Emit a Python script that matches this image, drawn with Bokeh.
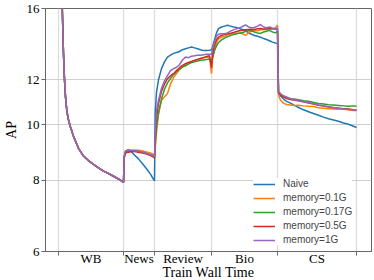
from bokeh.plotting import figure
from bokeh.models import Range1d, FixedTicker, PrintfTickFormatter, Legend, LegendItem
from bokeh.embed import file_html
from bokeh.resources import INLINE

# ---- data -------------------------------------------------------------
tasks = ["WB", "News", "Review", "Bio", "CS"]
task_bounds = [0, 65, 96, 153, 219, 298]
task_centers = [32.5, 80.5, 124.5, 186, 258.5]
y_ticks = [6, 8, 10, 12, 16]

x_wb = [0, 2, 3.7, 5, 6, 7, 8.3, 10, 11.7, 15, 20, 25, 30, 35, 40, 45, 50, 55, 60, 65]
x_news = [65.7, 67, 70, 73, 76, 80, 84, 88, 92, 95, 96]
x_review = [96.7, 98, 100, 103, 106, 109, 112, 115, 118, 121, 124, 127, 130, 133,
            136, 139, 142, 145, 148, 151, 153]
x_bio = [154, 156, 158, 160, 163, 166, 169, 172, 175, 178, 181, 184, 187, 190, 193,
         196, 199, 202, 205, 208, 211, 214, 217, 219]
x_cs = [220, 222, 225, 228, 232, 236, 240, 245, 250, 255, 260, 265, 270, 275, 280,
        285, 290, 295, 298]

wb_ap = [60, 24, 16.2, 13.3, 12.0, 11.2, 10.6, 10.2, 9.95, 9.55, 9.1, 8.82, 8.66,
         8.53, 8.41, 8.3, 8.22, 8.13, 8.04, 7.93]

naive_news = [8.75, 9.0, 9.05, 8.97, 8.86, 8.72, 8.55, 8.38, 8.2, 8.03, 7.98]
naive_review = [10.5, 11.4, 12.0, 12.55, 12.9, 13.15, 13.25, 13.35, 13.4, 13.45, 13.55,
                13.6, 13.65, 13.7, 13.65, 13.6, 13.55, 13.5, 13.5, 13.52, 13.55]
naive_bio = [13.7, 14.1, 14.5, 14.75, 14.85, 14.9, 14.95, 14.9, 14.85, 14.82, 14.75,
             14.7, 14.65, 14.5, 14.42, 14.35, 14.3, 14.25, 14.18, 14.12, 14.05, 13.97,
             13.92, 13.9]
naive_cs = [11.4, 11.25, 11.1, 11.0, 10.92, 10.82, 10.73, 10.63, 10.55, 10.47, 10.4,
            10.32, 10.25, 10.2, 10.15, 10.08, 10.03, 9.95, 9.9]

m01_news = [8.75, 8.93, 8.98, 9.02, 9.04, 9.03, 9.0, 8.97, 8.93, 8.88, 8.85]
m01_review = [9.1, 9.7, 10.45, 11.05, 11.2, 11.35, 11.8, 12.1, 12.3, 12.5, 12.65,
              12.78, 12.85, 12.9, 12.98, 13.03, 13.08, 13.12, 13.14, 13.16, 12.3]
m01_bio = [13.0, 13.55, 13.95, 14.15, 14.25, 14.3, 14.38, 14.42, 14.45, 14.48, 14.5,
           14.45, 14.35, 14.5, 14.6, 14.65, 14.62, 14.68, 14.7, 14.72, 14.7, 14.75,
           14.8, 14.95]
m01_cs = [11.3, 11.05, 10.92, 10.86, 10.84, 10.82, 10.83, 10.8, 10.78, 10.77, 10.72,
          10.7, 10.68, 10.66, 10.65, 10.67, 10.62, 10.6, 10.6]

m017_news = [8.8, 8.96, 9.0, 9.01, 9.0, 8.99, 8.96, 8.92, 8.87, 8.83, 8.8]
m017_review = [9.2, 9.9, 10.5, 11.1, 11.55, 11.85, 12.06, 12.25, 12.4, 12.52, 12.63,
               12.7, 12.78, 12.86, 12.9, 12.94, 12.98, 13.0, 13.02, 13.05, 12.85]
m017_bio = [13.15, 13.5, 13.75, 13.95, 14.1, 14.2, 14.28, 14.34, 14.4, 14.45, 14.48,
            14.52, 14.58, 14.62, 14.62, 14.55, 14.5, 14.47, 14.55, 14.6, 14.65, 14.55,
            14.5, 14.6]
m017_cs = [11.4, 11.3, 11.22, 11.17, 11.12, 11.1, 11.07, 11.03, 11.0, 10.95, 10.9,
           10.88, 10.85, 10.84, 10.82, 10.8, 10.78, 10.8, 10.78]

m05_news = [8.78, 8.93, 8.96, 8.98, 8.98, 8.96, 8.93, 8.89, 8.84, 8.78, 8.75]
m05_review = [9.4, 10.3, 10.9, 11.45, 11.8, 12.05, 12.2, 12.3, 12.45, 12.6, 12.72,
              12.8, 12.87, 12.92, 12.97, 13.03, 13.08, 13.12, 13.18, 13.22, 12.6]
m05_bio = [13.3, 13.8, 14.1, 14.25, 14.35, 14.4, 14.45, 14.48, 14.52, 14.58, 14.63,
           14.66, 14.68, 14.7, 14.72, 14.7, 14.74, 14.76, 14.72, 14.75, 14.78, 14.74,
           14.72, 14.75]
m05_cs = [11.4, 11.3, 11.2, 11.12, 11.08, 11.05, 11.02, 10.98, 10.93, 10.88, 10.83,
          10.79, 10.75, 10.72, 10.7, 10.68, 10.66, 10.63, 10.62]

m1_news = [8.82, 9.0, 9.04, 9.03, 9.01, 9.0, 8.96, 8.92, 8.87, 8.82, 8.8]
m1_review = [9.6, 10.6, 11.05, 11.6, 11.95, 12.2, 12.45, 12.55, 12.62, 12.75, 13.0,
             13.15, 13.12, 13.2, 13.22, 13.25, 13.25, 13.28, 13.3, 13.3, 13.3]
m1_bio = [13.6, 14.0, 14.3, 14.42, 14.45, 14.45, 14.5, 14.6, 14.68, 14.75, 14.8,
          14.88, 14.98, 14.85, 14.8, 14.82, 14.9, 15.0, 14.85, 14.8, 14.85, 14.78,
          14.75, 14.75]
m1_cs = [11.45, 11.35, 11.25, 11.2, 11.12, 11.07, 11.03, 10.98, 10.94, 10.9, 10.84,
         10.8, 10.76, 10.73, 10.7, 10.67, 10.65, 10.62, 10.6]

series_names = ["Naive", "memory=0.1G", "memory=0.17G", "memory=0.5G", "memory=1G"]
series_colors = ["#1f77b4", "#ff7f0e", "#2ca02c", "#d62728", "#9467bd"]

steps = x_wb + x_news + x_review + x_bio + x_cs
series_values = [
    wb_ap + naive_news + naive_review + naive_bio + naive_cs,
    wb_ap + m01_news + m01_review + m01_bio + m01_cs,
    wb_ap + m017_news + m017_review + m017_bio + m017_cs,
    wb_ap + m05_news + m05_review + m05_bio + m05_cs,
    wb_ap + m1_news + m1_review + m1_bio + m1_cs,
]

# ---- figure -----------------------------------------------------------
SERIF = "Liberation Serif"
SANS = "Liberation Sans"

p = figure(frame_width=326, frame_height=243,
           x_range=Range1d(-13, 313), y_range=Range1d(6, 16),
           y_axis_type="log",
           output_backend="svg", toolbar_location=None,
           min_border_left=37, min_border_right=3,
           min_border_top=8, min_border_bottom=29)

p.outline_line_color = "#666666"
p.background_fill_color = "white"
p.border_fill_color = "white"

# x axis: category names at task centres, tick marks at boundaries
p.xaxis.ticker = FixedTicker(ticks=task_centers, minor_ticks=task_bounds)
p.xaxis.major_label_overrides = {c: t for c, t in zip(task_centers, tasks)}
p.xaxis.major_tick_line_color = None
p.xaxis.major_tick_out = 0
p.xaxis.major_tick_in = 0
p.xaxis.minor_tick_line_color = "#666666"
p.xaxis.minor_tick_out = 4
p.xaxis.minor_tick_in = 0
p.xaxis.major_label_standoff = -5
p.xaxis.axis_label = "Train Wall Time"
p.xaxis.axis_label_standoff = -4
p.xgrid.ticker = FixedTicker(ticks=task_bounds)
p.xgrid.grid_line_color = "#dcdcdc"
p.xgrid.grid_line_width = 1.3

# y axis
p.yaxis.ticker = FixedTicker(ticks=y_ticks)
p.yaxis.formatter = PrintfTickFormatter(format="%d")
p.yaxis.minor_tick_line_color = None
p.yaxis.major_tick_out = 4
p.yaxis.major_tick_in = 0
p.yaxis.major_tick_line_color = "#666666"
p.yaxis.major_label_standoff = 2
p.yaxis.axis_label = "AP"
p.yaxis.axis_label_standoff = 5
p.ygrid.grid_line_color = "#cfcfcf"
p.ygrid.grid_line_width = 1

for ax in (p.xaxis, p.yaxis):
    ax.axis_line_color = "#666666"
    ax.major_label_text_font = SERIF
    ax.major_label_text_font_size = "13px"
    ax.major_label_text_color = "black"
    ax.axis_label_text_font = SERIF
    ax.axis_label_text_font_size = "14px"
    ax.axis_label_text_font_style = "normal"
    ax.axis_label_text_color = "black"

items = []
for name, color, vals in zip(series_names, series_colors, series_values):
    r = p.line(steps, vals, line_color=color, line_width=1.5)
    items.append(LegendItem(label=name, renderers=[r]))

legend = Legend(items=items, location=(208, 6),
                label_text_font=SANS, label_text_font_size="10px",
                glyph_width=22, glyph_height=10, label_height=10,
                label_standoff=8, spacing=3, padding=2, margin=0,
                border_line_color=None, background_fill_color="white",
                background_fill_alpha=1.0)
p.add_layout(legend)

open("out.html", "w").write(file_html(p, INLINE))
